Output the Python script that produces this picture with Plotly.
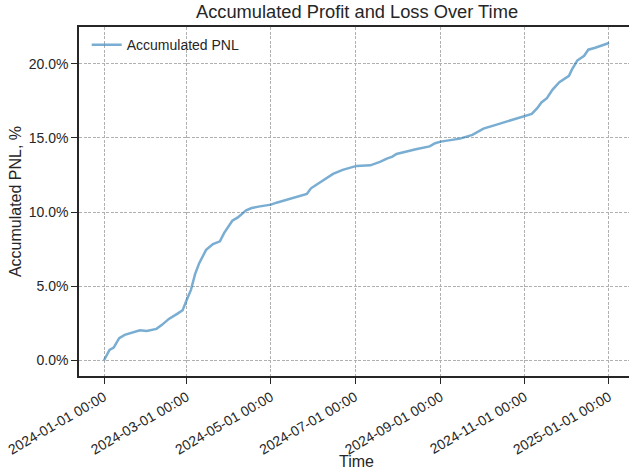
import plotly.graph_objects as go

dates = ["2024-01-01", "2024-01-05", "2024-01-08", "2024-01-12", "2024-01-16", "2024-01-22",
         "2024-01-27", "2024-02-01", "2024-02-08", "2024-02-12", "2024-02-17", "2024-02-23",
         "2024-02-27", "2024-03-01", "2024-03-04", "2024-03-07", "2024-03-10", "2024-03-15",
         "2024-03-20", "2024-03-25", "2024-03-28", "2024-04-03", "2024-04-07", "2024-04-13",
         "2024-04-17", "2024-04-23", "2024-05-01", "2024-05-05", "2024-05-17", "2024-05-27",
         "2024-05-30", "2024-06-05", "2024-06-15", "2024-06-22", "2024-07-02", "2024-07-12",
         "2024-07-19", "2024-07-24", "2024-07-28", "2024-07-31", "2024-08-07", "2024-08-14",
         "2024-08-24", "2024-08-28", "2024-09-01", "2024-09-15", "2024-09-24", "2024-10-02",
         "2024-10-11", "2024-10-21", "2024-10-31", "2024-11-06", "2024-11-10", "2024-11-13",
         "2024-11-17", "2024-11-21", "2024-11-26", "2024-12-03", "2024-12-05", "2024-12-09",
         "2024-12-14", "2024-12-17", "2024-12-22", "2025-01-01"]
pnl = [0.00, 0.70, 0.86, 1.49, 1.71, 1.87,
       2.03, 1.98, 2.12, 2.39, 2.79, 3.13,
       3.38, 4.08, 4.75, 5.81, 6.55, 7.45,
       7.84, 8.02, 8.58, 9.41, 9.64, 10.11,
       10.27, 10.38, 10.50, 10.63, 10.95, 11.22,
       11.60, 11.98, 12.57, 12.84, 13.11, 13.15,
       13.38, 13.60, 13.74, 13.92, 14.10, 14.23,
       14.43, 14.64, 14.75, 14.95, 15.20, 15.63,
       15.88, 16.17, 16.44, 16.62, 17.00, 17.39,
       17.68, 18.24, 18.76, 19.19, 19.59, 20.22,
       20.54, 20.95, 21.08, 21.40]
y_ticks = [0, 5, 10, 15, 20]
y_tick_labels = [f"{v:.1f}%" for v in y_ticks]

font = "Liberation Sans, Arial, sans-serif"
txt = "#262626"

fig = go.Figure()
fig.add_trace(go.Scatter(x=dates, y=pnl, mode="lines", name="Accumulated PNL",
                         line=dict(color="rgba(31,119,180,0.6)", width=2.5)))

fig.update_layout(
    width=629, height=471,
    margin=dict(l=79, r=0, t=27, b=95, autoexpand=False),
    paper_bgcolor="white", plot_bgcolor="white",
    font=dict(family=font, size=14, color=txt),
    title=dict(text="Accumulated Profit and Loss Over Time", x=357 / 629, xref="container",
               xanchor="center", y=1 - 11.5 / 471, yanchor="middle",
               font=dict(size=18.3, color=txt)),
    showlegend=True,
    legend=dict(x=0.014, y=0.994, xanchor="left", yanchor="top", bgcolor="rgba(255,255,255,0)",
                font=dict(size=14, color=txt), itemwidth=30),
    annotations=[dict(text="Time", xref="paper", yref="paper", x=(356 - 79) / 550,
                      y=-(461 - 376) / 349, xanchor="center", yanchor="middle",
                      showarrow=False, font=dict(size=16, color=txt))],
)
fig.update_xaxes(
    type="date", range=["2023-12-13 21:00", "2025-01-15 12:00"], automargin=False,
    tick0="2024-01-01", dtick="M2", tickformat="%Y-%m-%d %H:%M", tickangle=-30,
    ticks="outside", ticklen=6, tickwidth=1.2, tickcolor=txt,
    showline=True, linecolor=txt, linewidth=1.5, mirror=True,
    showgrid=True, gridcolor="#b0b0b0", griddash="3px,1.5px", gridwidth=0.8,
    zeroline=False,
    tickfont=dict(size=14, color=txt),
)
fig.update_yaxes(
    range=[-1.06, 22.48], tickvals=y_ticks, ticktext=y_tick_labels, automargin=False,
    ticks="outside", ticklen=6, tickwidth=1.2, tickcolor=txt,
    showline=True, linecolor=txt, linewidth=1.5, mirror=False,
    showgrid=True, gridcolor="#b0b0b0", griddash="3px,1.5px", gridwidth=0.8,
    zeroline=False,
    title=dict(text="Accumulated PNL, %", font=dict(size=16, color=txt), standoff=3),
    tickfont=dict(size=14, color=txt),
)

fig.write_html("out.html", config={"displayModeBar": False},
               post_script="document.body.style.margin='0';"
                           "document.documentElement.style.overflow='hidden';")
